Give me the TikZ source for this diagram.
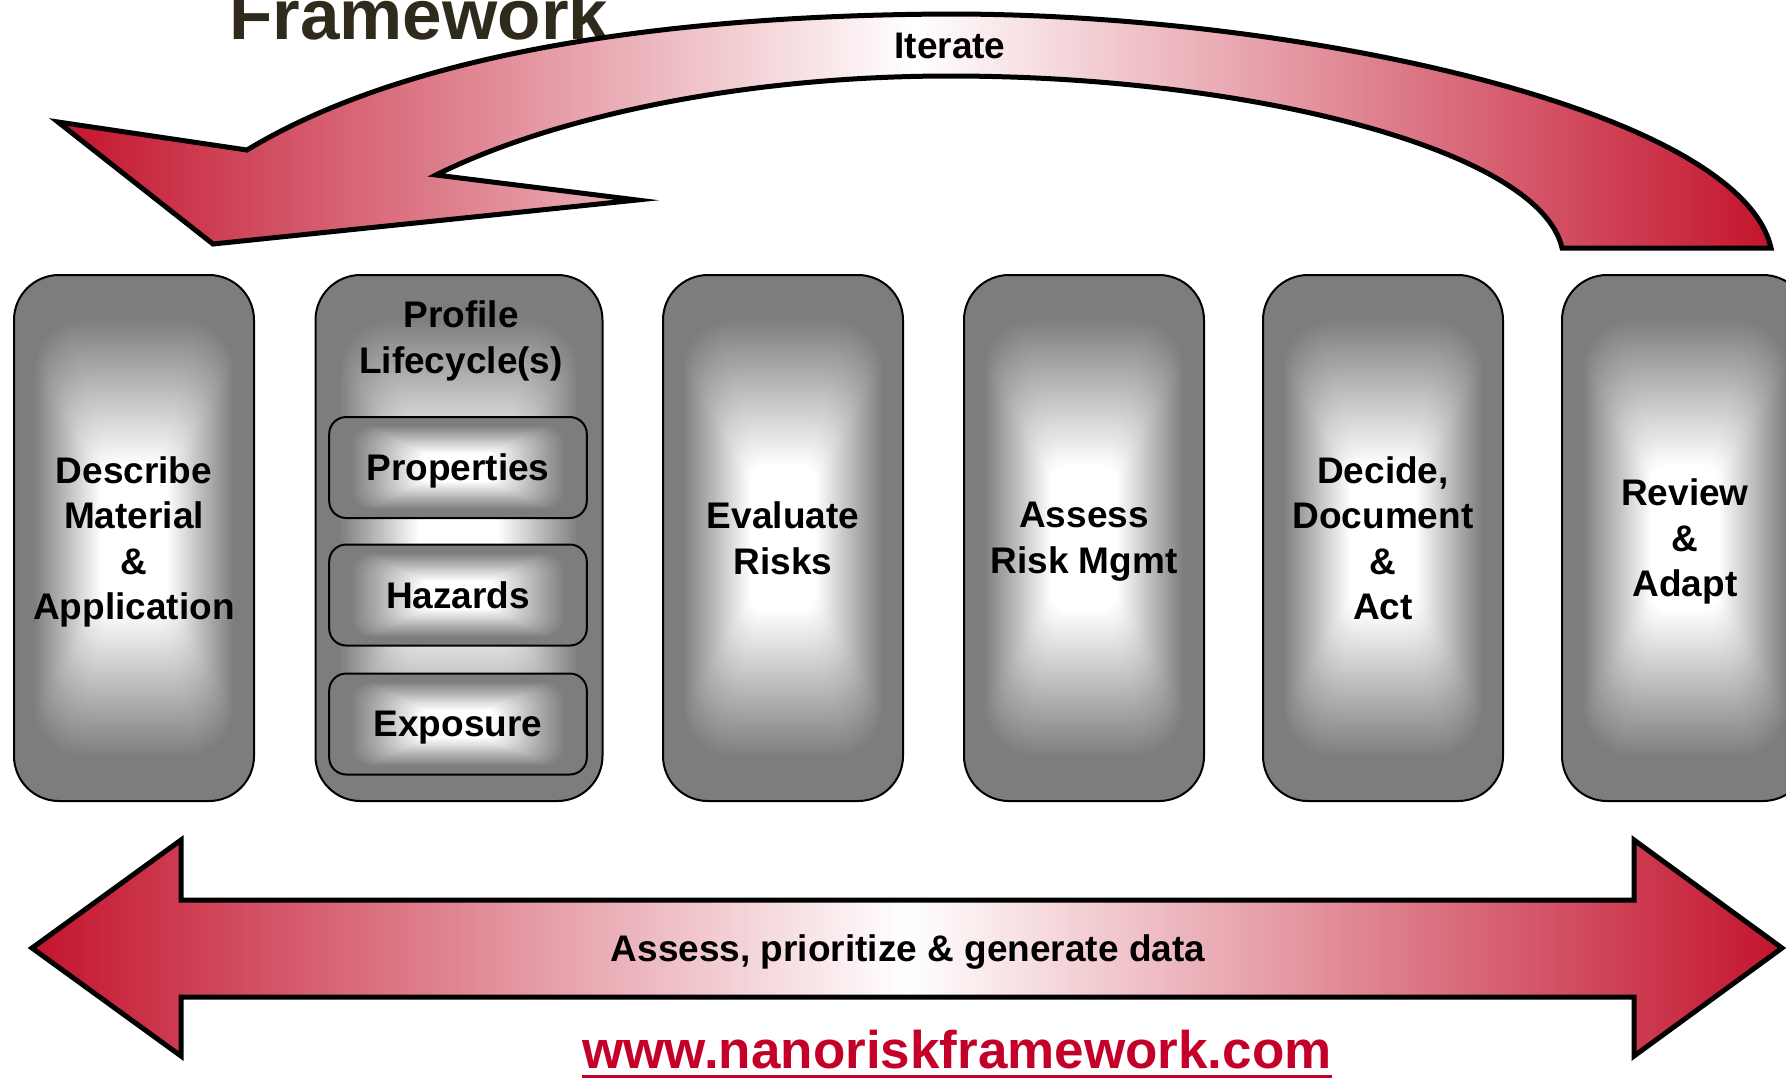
\documentclass[tikz,border=0pt]{standalone}
\usepackage{fontspec}
\setmainfont{Liberation Sans}
\usetikzlibrary{calc}
\definecolor{arrowred}{RGB}{195,20,45}
\definecolor{boxgray}{RGB}{125,125,125}
\definecolor{urlred}{RGB}{196,0,40}
\definecolor{titlecol}{RGB}{46,43,29}
\newcommand\stagefont{\bfseries\fontsize{18.5}{22.75}\selectfont}
\begin{document}
\begin{tikzpicture}[x=0.5pt,y=-0.5pt,
  glow/.style={fill=boxgray, path picture={
    \foreach \j in {0,...,44}{
      \pgfmathsetmacro\f{0.84-0.56*\j/44}
      \pgfmathsetmacro\p{100*\j/44}
      \pgfmathsetmacro\rc{\f*#1}
      \fill[white!\p!boxgray, rounded corners=\rc pt]
        ($(path picture bounding box.center)!\f!(path picture bounding box.south west)$) rectangle
        ($(path picture bounding box.center)!\f!(path picture bounding box.north east)$);
    }}},
  stage/.style={draw=black, line width=1pt, rounded corners=22.5pt, minimum width=120pt, minimum height=263pt, glow=30, inner sep=0pt, align=center, text depth=0pt, font=\stagefont},
  subbox/.style={draw=black, line width=1pt, rounded corners=8.5pt, minimum width=128.8pt, minimum height=50.5pt, glow=12, inner sep=0pt, text depth=0pt, font=\stagefont},
  bigarrow/.style={draw=black, line width=2.5pt, line join=miter, left color=arrowred, right color=arrowred, middle color=white},
  lbl/.style={inner sep=0pt, font=\stagefont}]
\useasboundingbox (0,0) rectangle (1786,1078);
\clip (0,0) rectangle (1786,1078);

% title (cut at top)
\node[anchor=base west, inner sep=0pt, text=titlecol, font=\bfseries\fontsize{35.5}{40}\selectfont] (title) at (229,39) {Framework};

% curved iterate arrow
\path[bigarrow] (58,122) -- (247,150)
  .. controls (420,45) and (700,15) .. (950,14)
  .. controls (1300,14) and (1740,110) .. (1771,248)
  -- (1562,248)
  .. controls (1540,150) and (1250,76) .. (950,76)
  .. controls (740,76) and (550,118) .. (436,175)
  -- (637,200) -- (213,244) -- cycle;
\node[lbl, anchor=base] (iter) at (950,58) {Iterate};

% stages
\node[stage] (describe) at (134,538) {Describe\\Material\\\&\\Application};
\node[stage, minimum width=143.5pt] (profile) at (459,538) {};
\node[lbl, align=center, text depth=0pt] (proftitle) at (461,337) {Profile\\Lifecycle(s)};
\node[subbox] (props) at (458,467.5) {Properties};
\node[subbox] (haz) at (458,595) {Hazards};
\node[subbox] (expo) at (458,724) {Exposure};
\node[stage] (evaluate) at (783,538) {Evaluate\\Risks};
\node[stage] (mgmt) at (1084,538) {Assess\\Risk Mgmt};
\node[stage] (decide) at (1383,538) {Decide,\\Document\\\&\\Act};
\node[stage, minimum width=123pt] (review) at (1685,538) {Review\\\&\\Adapt};

% double arrow
\path[bigarrow] (32,948) -- (181,840) -- (181,900) -- (1634,900) -- (1634,840)
  -- (1782,948) -- (1634,1056) -- (1634,997) -- (181,997) -- (181,1056) -- cycle;
\node[lbl, anchor=base] (data) at (908,961) {Assess, prioritize \& generate data};

% url
\node[anchor=base west, inner sep=0pt, text=urlred, font=\bfseries\fontsize{26.5}{30}\selectfont] (url) at (582,1068) {www.nanoriskframework.com};
\draw[urlred, line width=1.5pt] ($(url.base west)+(0,8.5)$) -- ($(url.base east)+(0,8.5)$);
\end{tikzpicture}
\end{document}
